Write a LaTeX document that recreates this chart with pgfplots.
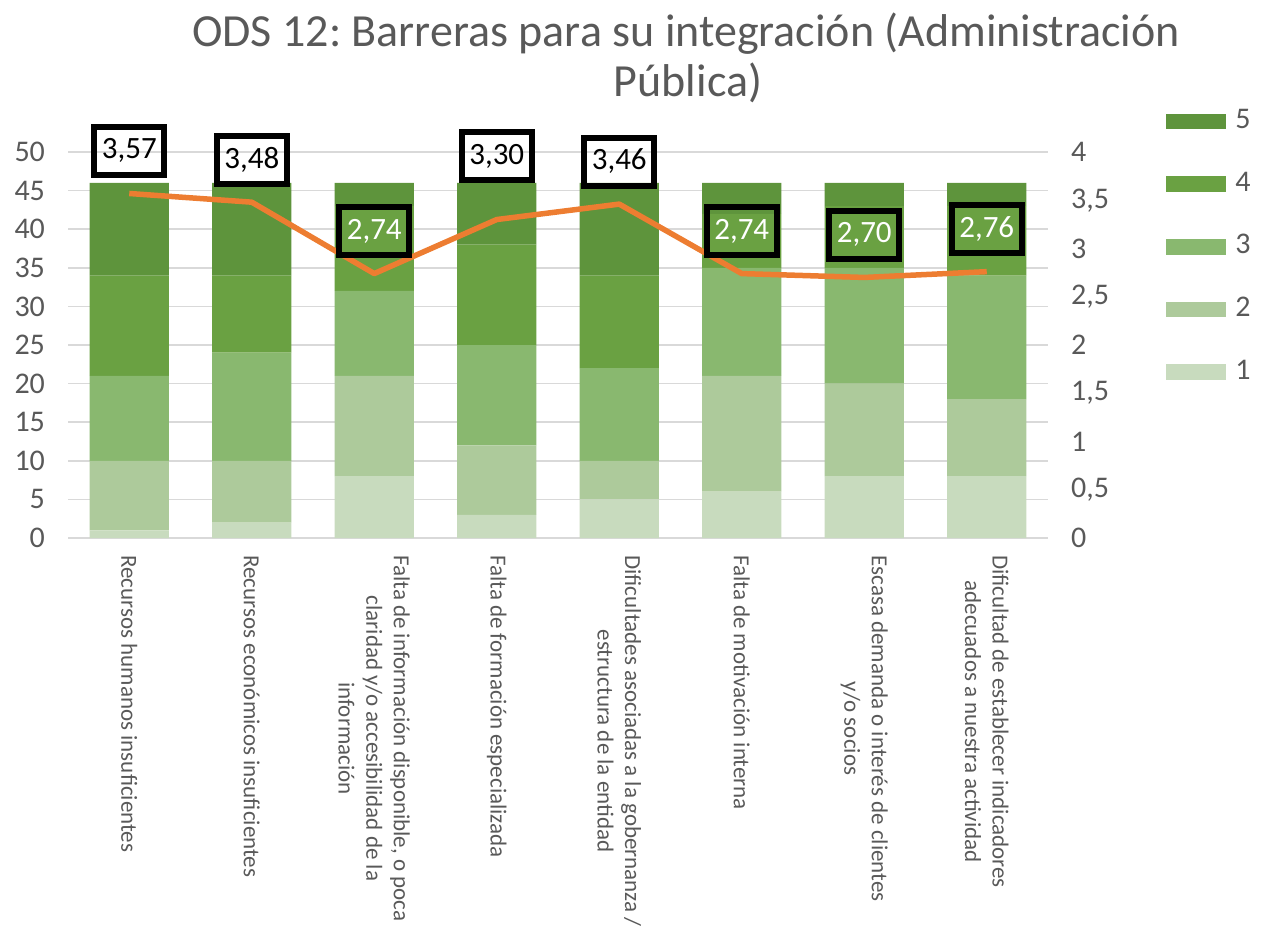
\documentclass[border=0pt]{standalone}
\usepackage{pgfplots}
\pgfplotsset{compat=1.18}
\usepackage{fontspec}
\setmainfont{Carlito}
\frenchspacing
\definecolor{gA}{HTML}{C8DBBE}
\definecolor{gB}{HTML}{ADCA9B}
\definecolor{gC}{HTML}{89B86F}
\definecolor{gD}{HTML}{6AA142}
\definecolor{gE}{HTML}{5E943C}
\definecolor{orangeL}{HTML}{ED7D31}
\definecolor{txt}{HTML}{595959}
\definecolor{gridc}{HTML}{D9D9D9}
\pgfplotsset{/pgf/number format/assume math mode=true,
  lbl/.style={draw=none, mark=none, point meta=y,
  nodes near coords={\pgfmathprintnumber[fixed,fixed zerofill,precision=2,use comma]{\pgfplotspointmeta}},
  every node near coord/.append style={anchor=south, yshift=#1, draw=black, line width=3pt, minimum width=35pt, minimum height=24pt, inner sep=1pt, font=\fontsize{15.5}{18}\selectfont}}}
\begin{document}
\begin{tikzpicture}
\useasboundingbox (0,0) rectangle (631.5pt,463pt);
\node[anchor=base, text=txt, font=\fontsize{23}{27.6}\selectfont] at (343pt,439.5pt) {ODS 12: Barreras para su integración (Administración};
\node[anchor=base, text=txt, font=\fontsize{23}{27.6}\selectfont] at (344pt,414.5pt) {Pública)};
\begin{axis}[
  at={(34pt,194pt)}, anchor=south west,
  scale only axis, width=490pt, height=193pt,
  xmin=-0.5, xmax=7.5, ymin=0, ymax=50,
  ybar stacked, bar width=0.645,
  xtick={0,1,2,3,4,5,6,7},
  xticklabels={{Recursos humanos insuficientes},
    {Recursos económicos insuficientes},
    {Falta de información disponible, o poca\\claridad y/o accesibilidad de la\\información},
    {Falta de formación especializada},
    {Dificultades asociadas a la gobernanza /\\estructura de la entidad},
    {Falta de motivación interna},
    {Escasa demanda o interés de clientes\\y/o socios},
    {Dificultad de establecer indicadores\\adecuados a nuestra actividad}},
  ytick={0,5,10,15,20,25,30,35,40,45,50},
  ymajorgrids, grid style={draw=gridc, line width=0.75pt},
  axis line style={draw=none}, major tick length=0pt,
  tick label style={text=txt},
  yticklabel style={font=\fontsize{15}{18}\selectfont, xshift=-8pt},
  xticklabel style={font=\fontsize{11.5}{13.8}\selectfont, rotate=-90, anchor=west, align=center, inner xsep=8.5pt},
  clip=false,
  legend style={at={(1.1204,1.111)}, anchor=north west, draw=none, fill=none, inner sep=0pt,
    font=\fontsize{15}{18}\selectfont, text=txt, row sep=21.5pt,
    nodes={inner sep=0pt, text height=9.5pt, text depth=0pt},
    /tikz/every odd column/.append style={column sep=4.5pt}},
  legend cell align=left,
  reverse legend,
  legend image code/.code={\path[#1, draw=none] (0pt,-5.1pt) rectangle (30pt,2.7pt);},
]
\addplot[fill=gA, draw=none] coordinates {(0,1) (1,2) (2,8) (3,3) (4,5) (5,6) (6,8) (7,8)};
\addplot[fill=gB, draw=none] coordinates {(0,9) (1,8) (2,13) (3,9) (4,5) (5,15) (6,12) (7,10)};
\addplot[fill=gC, draw=none] coordinates {(0,11) (1,14) (2,11) (3,13) (4,12) (5,14) (6,15) (7,16)};
\addplot[fill=gD, draw=none] coordinates {(0,13) (1,10) (2,11) (3,13) (4,12) (5,7) (6,8) (7,9)};
\addplot[fill=gE, draw=none] coordinates {(0,12) (1,12) (2,3) (3,8) (4,12) (5,4) (6,3) (7,3)};
\legend{1,2,3,4,5}
\end{axis}
\begin{axis}[
  at={(34pt,194pt)}, anchor=south west,
  scale only axis, width=490pt, height=193pt,
  xmin=-0.5, xmax=7.5, ymin=0, ymax=4,
  axis y line*=right, axis x line=none,
  ytick={0,0.5,1,1.5,2,2.5,3,3.5,4},
  yticklabel style={font=\fontsize{15}{18}\selectfont, text=txt, xshift=8pt, /pgf/number format/use comma},
  axis line style={draw=none}, major tick length=0pt,
  clip=false,
]
\addplot[orangeL, line width=2.75pt, line join=round, mark=none] coordinates {(0,3.57) (1,3.48) (2,2.74) (3,3.30) (4,3.46) (5,2.74) (6,2.70) (7,2.76)};
\addplot[lbl=7.8pt, every node near coord/.append style={text=black}] coordinates {(0,3.57) (1,3.48) (4,3.46)};
\addplot[lbl=18.3pt, every node near coord/.append style={text=black}] coordinates {(3,3.30)};
\addplot[lbl=7.8pt, every node near coord/.append style={text=white}] coordinates {(2,2.74) (5,2.74) (6,2.70) (7,2.76)};
\end{axis}
\end{tikzpicture}
\end{document}
